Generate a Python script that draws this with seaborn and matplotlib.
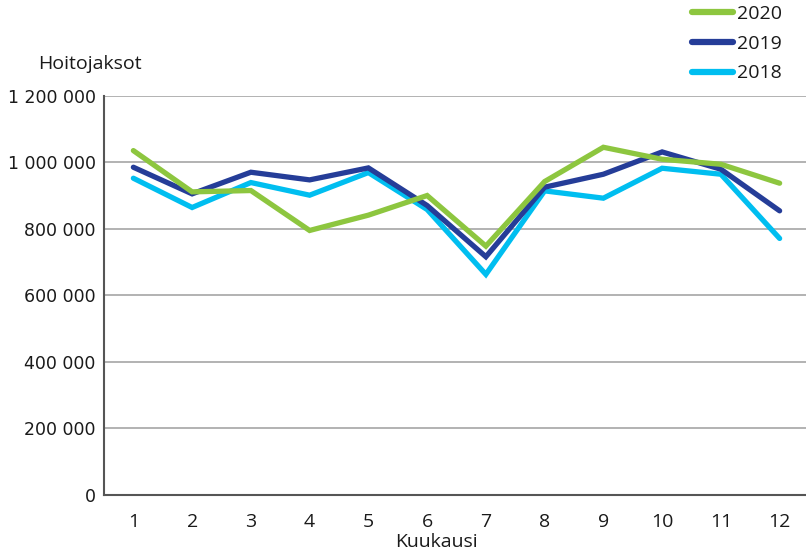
import matplotlib
matplotlib.use("Agg")
import matplotlib.pyplot as plt
import seaborn as sns
import pandas as pd
from matplotlib.ticker import FuncFormatter
from matplotlib.lines import Line2D

months = list(range(1, 13))
hoitojaksot_2020 = [1035000, 911000, 915000, 795000, 841000, 900000, 748000, 942000, 1045000, 1009000, 994000, 937000]
hoitojaksot_2019 = [985000, 905000, 970000, 947000, 983000, 870000, 716000, 925000, 964000, 1031000, 979000, 854000]
hoitojaksot_2018 = [952000, 864000, 939000, 901000, 969000, 858000, 663000, 914000, 892000, 982000, 964000, 771000]
years = ["2018", "2019", "2020"]
legend_order = ["2020", "2019", "2018"]
colors = {"2020": "#8DC63F", "2019": "#253D98", "2018": "#00BEF0"}
y_ticks = [0, 200000, 400000, 600000, 800000, 1000000, 1200000]

df = pd.concat([
    pd.DataFrame({"Kuukausi": months, "Hoitojaksot": vals, "Vuosi": yr})
    for yr, vals in zip(years, [hoitojaksot_2018, hoitojaksot_2019, hoitojaksot_2020])
])

sns.set_style("white")
plt.rcParams["font.family"] = ["Open Sans", "DejaVu Sans"]
text_color = "#1a1a1a"

fig = plt.figure(figsize=(8.06, 5.55), dpi=100)
ax = fig.add_axes([104 / 806, 1 - 495 / 555, 705 / 806, 399.3 / 555])

sns.lineplot(data=df, x="Kuukausi", y="Hoitojaksot", hue="Vuosi", hue_order=years,
             palette=colors, linewidth=3.8, ax=ax, legend=False,
             solid_capstyle="round", solid_joinstyle="miter")

ax.set_xlim(0.5, 12.5)
ax.set_ylim(0, 1200000)
ax.set_xticks(months)
ax.set_xticklabels([str(m) for m in months], fontsize=14, color=text_color)
ax.set_yticks(y_ticks)
ax.yaxis.set_major_formatter(FuncFormatter(lambda v, p: f"{int(v):,}".replace(",", " ")))
for lbl in ax.get_yticklabels():
    lbl.set_fontfamily("DejaVu Sans")
    lbl.set_fontsize(12.5)
    lbl.set_color(text_color)

ax.grid(axis="y", color="#a6a6a6", linewidth=1.2)
ax.set_axisbelow(True)
for side in ["top", "right"]:
    ax.spines[side].set_visible(False)
for side in ["left", "bottom"]:
    ax.spines[side].set_color("#555555")
    ax.spines[side].set_linewidth(1.5)
ax.tick_params(axis="x", direction="out", length=8, width=1.2, color="#555555", pad=5)
ax.tick_params(axis="y", length=0, pad=6)

ax.set_xlabel("Kuukausi", fontsize=14, color=text_color)
ax.xaxis.set_label_coords((436 - 104) / 705, -(542 - 495) / 399.3)
ax.xaxis.label.set_va("center")
ax.set_ylabel("")
fig.text(38 / 806, 1 - 64 / 555, "Hoitojaksot", fontsize=14, color=text_color,
         va="center", ha="left")

leg_handles = [Line2D([], [], color=colors[y], linewidth=4.5, solid_capstyle="round")
               for y in legend_order]
fig.legend(leg_handles, legend_order, loc="upper left", bbox_to_anchor=(692 / 806, 1 - 5 / 555),
           frameon=False, fontsize=14, handlelength=2.1, handletextpad=0.2,
           labelspacing=0.6, borderaxespad=0, borderpad=0, labelcolor=text_color)

fig.savefig("out.png", dpi=100)
